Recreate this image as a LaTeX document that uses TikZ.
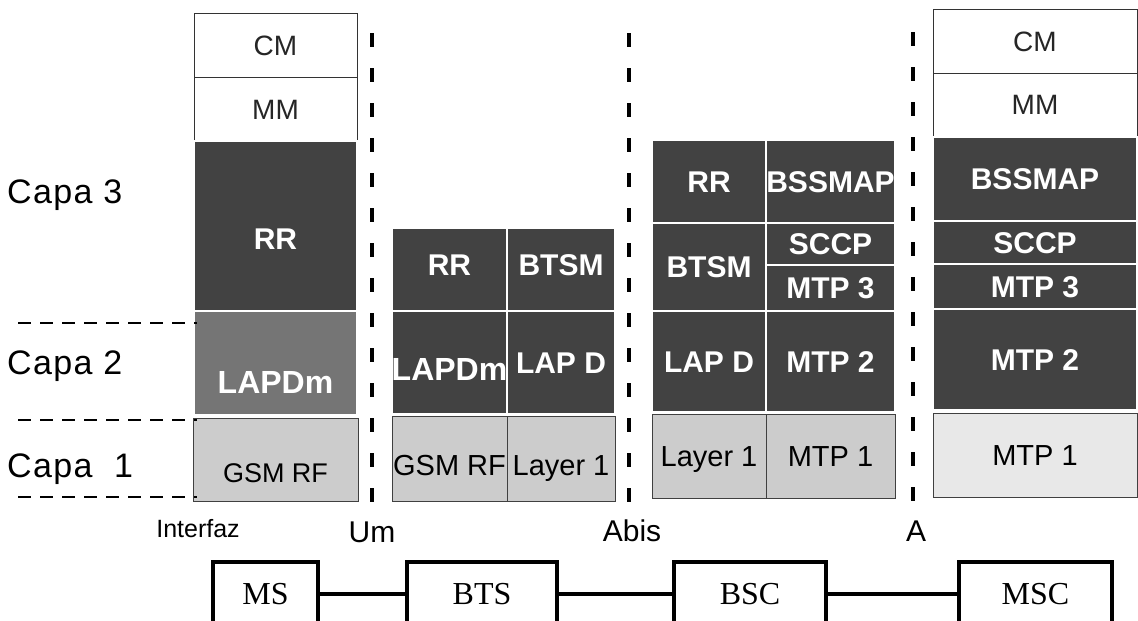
\documentclass[tikz,border=0pt]{standalone}
\usepackage{fontspec}
\setmainfont{Liberation Sans}
\newfontfamily\unitfont{Liberation Serif}
\usepackage{xcolor}
\usepackage{tikz}
\usetikzlibrary{positioning}

\definecolor{celldark}{gray}{0.26}
\definecolor{cellmid}{gray}{0.46}
\definecolor{celllight}{gray}{0.80}
\definecolor{cellpale}{gray}{0.91}

\begin{document}
\begin{tikzpicture}[
		x=1pt, y=-1pt,
		node distance=0pt,
		cell/.style={
			rectangle,
			inner sep=0pt,
			outer sep=0pt,
			align=center
		},
		darkcell/.style={cell, fill=celldark, draw=white, line width=2.5pt, text=white,
			font=\bfseries\fontsize{30}{32}\selectfont, text height=21.5pt, text depth=0pt},
		midcell/.style={darkcell, fill=cellmid},
		lightcell/.style={cell, fill=celllight, draw=black!75, line width=1pt, text=black,
			font=\fontsize{29}{31}\selectfont, text height=21pt, text depth=0pt},
		palecell/.style={lightcell, fill=cellpale},
		whitecell/.style={cell, fill=white, draw=black!80, line width=1pt, text=black!85,
			font=\fontsize{28}{30}\selectfont, text height=20pt, text depth=0pt},
		entity/.style={rectangle, draw, line width=3.5pt, inner sep=0pt, outer sep=0pt,
			font=\unitfont\fontsize{32}{34}\selectfont, text height=21pt, text depth=0pt},
		link/.style={line width=4.5pt},
		ifline/.style={line width=3.5pt, dash pattern=on 14pt off 21pt, shorten >=8pt},
		ifacelab/.style={font=\fontsize{30}{32}\selectfont, inner sep=0pt, text height=21pt, text depth=0pt},
		levelline/.style={line width=2.5pt, dash pattern=on 13pt off 9pt},
		capa/.style={font=\fontsize{34}{36}\selectfont\addfontfeature{LetterSpace=4}, inner sep=0pt, anchor=west}
		]
		\useasboundingbox (0,0) rectangle (1138,621);
		
		% MS
		\node[whitecell, minimum width=163pt, minimum height=64pt] (ms-cm) at (275.5,45) {CM};
		\node[whitecell, minimum width=163pt, minimum height=64pt, below=of ms-cm] (ms-mm) {MM};
		\node[darkcell, minimum width=163pt, minimum height=170pt, below=of ms-mm, text height=47.5pt] (ms-rr) {RR};
		\node[midcell, minimum width=163pt, minimum height=104pt, below=of ms-rr,
			font=\bfseries\fontsize{32}{34}\selectfont, text height=61pt] (ms-lapdm) {LAPDm};
		\node[lightcell, minimum width=165pt, minimum height=83pt, below=3pt of ms-lapdm,
			font=\fontsize{27}{29}\selectfont, text height=45pt] (ms-gsmrf) {GSM RF};
		
		% BTS
		\node[darkcell, minimum width=115pt, minimum height=83pt, text depth=10pt] (bts-rr) at (449.5,269.5) {RR};
		\node[darkcell, minimum width=108pt, minimum height=83pt, text depth=10pt, right=of bts-rr] (bts-btsm) {BTSM};
		\node[darkcell, minimum width=115pt, minimum height=103pt, below=of bts-rr,
			font=\bfseries\fontsize{32}{34}\selectfont, text height=35pt] (bts-lapdm) {LAPDm};
		\node[darkcell, minimum width=108pt, minimum height=103pt, below=of bts-btsm] (bts-lapd) {LAP D};
		\node[lightcell, minimum width=115pt, minimum height=85pt, below=2pt of bts-lapdm,
			text height=33pt] (bts-gsmrf) {GSM RF};
		\node[lightcell, minimum width=108pt, minimum height=85pt, below=2pt of bts-lapd,
			text height=33pt] (bts-layer1) {Layer 1};
		
		% BSC
		\node[darkcell, minimum width=114pt, minimum height=83pt] (bsc-rr) at (709,181.5) {RR};
		\node[darkcell, minimum width=114pt, minimum height=88pt, below=of bsc-rr] (bsc-btsm) {BTSM};
		\node[darkcell, minimum width=114pt, minimum height=101pt, below=of bsc-btsm] (bsc-lapd) {LAP D};
		\node[lightcell, minimum width=114pt, minimum height=84pt, below=2pt of bsc-lapd] (bsc-layer1) {Layer 1};
		\node[darkcell, minimum width=129pt, minimum height=83pt, right=of bsc-rr] (bsc-bssmap) {BSSMAP};
		\node[darkcell, minimum width=129pt, minimum height=42pt, below=of bsc-bssmap] (bsc-sccp) {SCCP};
		\node[darkcell, minimum width=129pt, minimum height=46pt, below=of bsc-sccp] (bsc-mtp3) {MTP 3};
		\node[darkcell, minimum width=129pt, minimum height=101pt, right=of bsc-lapd] (bsc-mtp2) {MTP 2};
		\node[lightcell, minimum width=129pt, minimum height=84pt, right=of bsc-layer1] (bsc-mtp1) {MTP 1};
		
		% MSC
		\node[whitecell, minimum width=204pt, minimum height=64pt] (msc-cm) at (1035,41) {CM};
		\node[whitecell, minimum width=204pt, minimum height=63pt, below=of msc-cm] (msc-mm) {MM};
		\node[darkcell, minimum width=204pt, minimum height=84pt, below=1pt of msc-mm] (msc-bssmap) {BSSMAP};
		\node[darkcell, minimum width=204pt, minimum height=43pt, below=of msc-bssmap] (msc-sccp) {SCCP};
		\node[darkcell, minimum width=204pt, minimum height=45pt, below=of msc-sccp] (msc-mtp3) {MTP 3};
		\node[darkcell, minimum width=204pt, minimum height=101pt, below=of msc-mtp3] (msc-mtp2) {MTP 2};
		\node[palecell, minimum width=204pt, minimum height=84pt, below=3pt of msc-mtp2] (msc-mtp1) {MTP 1};
		
		% capas
		\node[capa] (capa3) at (7,195) {Capa 3};
		\node[capa] (capa2) at (7,366) {Capa 2};
		\node[capa] (capa1) at (7,469) {Capa\ \ 1};
		\draw[levelline] (18,323) -- (197,323);
		\draw[levelline] (18,420) -- (197,420);
		\draw[levelline] (18,497) -- (197,497);
		
		% interfaces
		\node[font=\fontsize{25}{27}\selectfont, inner sep=0pt] (interfaz) at (198,529) {Interfaz};
		\node[ifacelab] (um) at (372,532) {Um};
		\node[ifacelab] (abis) at (632,531) {Abis};
		\node[ifacelab] (a) at (916,531) {A};
		\coordinate (um-top) at (372,33);
		\coordinate (abis-top) at (629,33);
		\coordinate (a-top) at (913,32);
		\draw[ifline] (um-top) -- (um.north);
		\draw[ifline] (abis-top) -- (abis-top |- abis.north);
		\draw[ifline] (a-top) -- (a-top |- a.north);
		
		% red
		\node[entity, minimum width=105pt, minimum height=64pt] (ms) at (265.5,594) {MS};
		\node[entity, minimum width=150pt, minimum height=64pt] (bts) at (482,594) {BTS};
		\node[entity, minimum width=152pt, minimum height=64pt] (bsc) at (750,594) {BSC};
		\node[entity, minimum width=153pt, minimum height=64pt] (msc) at (1035.5,594) {MSC};
		\draw[link] (ms) -- (bts);
		\draw[link] (bts) -- (bsc);
		\draw[link] (bsc) -- (msc);
	\end{tikzpicture}
\end{document}
